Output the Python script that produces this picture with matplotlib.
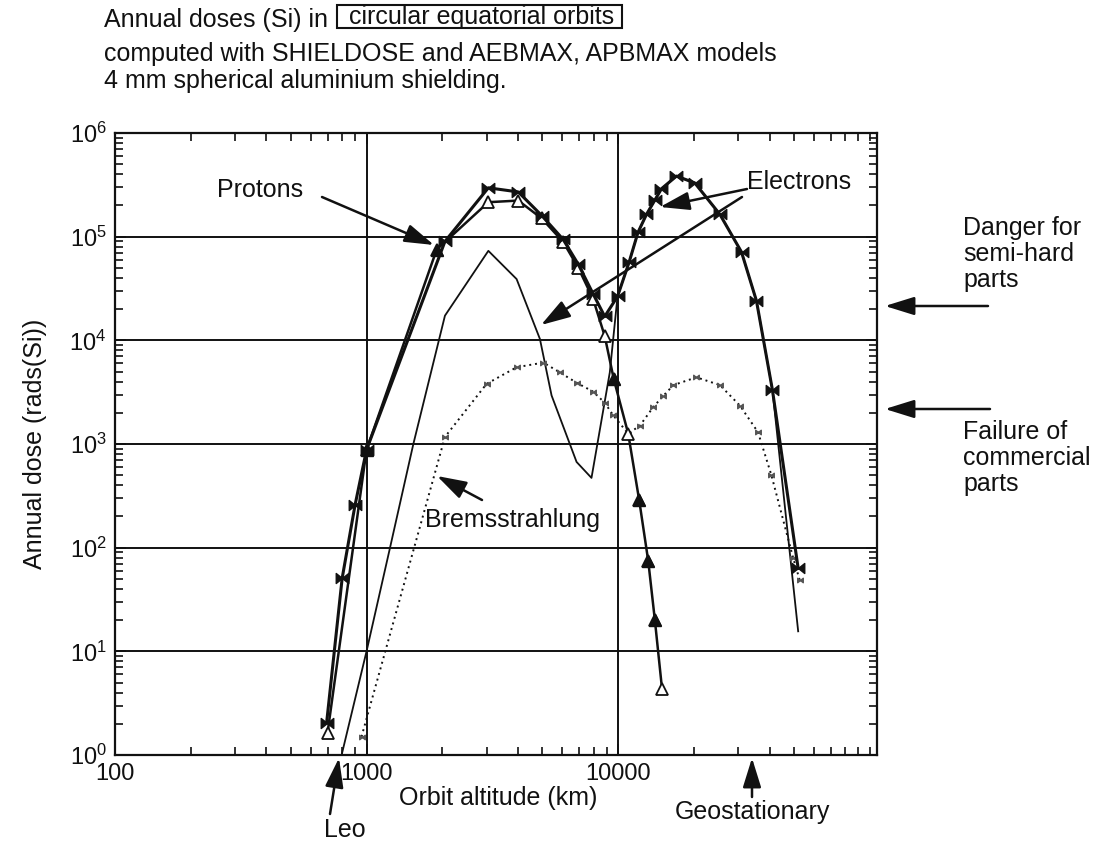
import numpy as np
import matplotlib
matplotlib.use("Agg")
import matplotlib.pyplot as plt
from matplotlib.path import Path
from matplotlib.patches import Rectangle
from matplotlib.ticker import FixedLocator, FuncFormatter, NullFormatter

plt.rcParams['font.family'] = ['Liberation Sans', 'DejaVu Sans']
plt.rcParams['mathtext.fontset'] = 'custom'
plt.rcParams['mathtext.rm'] = 'Liberation Sans'
plt.rcParams['mathtext.it'] = 'Liberation Sans'

# ---------------- data ----------------
# total dose curve (bow-tie markers)
total_alt = [694, 800, 900, 1000, 2050, 3050, 4010, 4970, 6050, 6950, 7960, 8850,
             9950, 11070, 12000, 12970, 14000, 14880, 17070, 20180, 25400, 30960,
             35500, 41100, 52000]
total_dose = [2.05, 50.7, 257, 880, 9.0e4, 2.96e5, 2.7e5, 1.6e5, 9.4e4, 5.4e4, 2.8e4, 1.7e4,
              2.65e4, 5.7e4, 1.1e5, 1.64e5, 2.25e5, 2.9e5, 3.84e5, 3.3e5, 1.64e5, 7.1e4,
              2.4e4, 3.3e3, 63]

# protons (triangle markers)
proton_alt = [700, 1000, 1900, 3050, 4010, 4970, 6050, 6950, 7960, 8850, 9620, 10970,
              12130, 13180, 14000, 14960]
proton_dose = [1.64, 880, 7.5e4, 2.15e5, 2.23e5, 1.5e5, 8.9e4, 5.0e4, 2.5e4, 1.1e4, 4.2e3,
               1.26e3, 288, 74.5, 20.2, 4.3]
proton_filled = [False, True, True, False, False, False, False, False, False, False, True,
                 False, True, True, True, False]

# electrons (thin solid line)
electron_alt = [796, 1000, 1240, 1535, 2050, 3050, 3950, 4890, 5440, 6840, 7840, 9270,
                9950, 11070, 12000, 12970, 14000, 14880, 17070, 20180, 25400, 30960,
                35500, 41100, 52000]
electron_dose = [1.0, 10, 100, 1000, 1.73e4, 7.3e4, 3.9e4, 1.03e4, 2.94e3, 671, 471, 4.9e3,
                 2.65e4, 5.7e4, 1.1e5, 1.64e5, 2.25e5, 2.9e5, 3.84e5, 3.3e5, 1.64e5, 7.1e4,
                 2.4e4, 3.3e3, 15.6]

# bremsstrahlung (dotted)
brems_alt = [955, 2050, 3000, 3950, 5050, 5870, 6840, 7960, 8850, 9550, 10970, 12200,
             13800, 15100, 16600, 20500, 25400, 30500, 36000, 40700, 49700, 52700]
brems_dose = [1.5, 1170, 3.8e3, 5.5e3, 6.1e3, 4.9e3, 3.9e3, 3.2e3, 2.5e3, 1.9e3, 1.26e3,
              1.5e3, 2.27e3, 2.9e3, 3.7e3, 4.4e3, 3.7e3, 2.35e3, 1.3e3, 500, 79, 49]

x_major = [100, 1000, 10000]
x_major_labels = ["100", "1000", "10000"]
y_major = [1e0, 1e1, 1e2, 1e3, 1e4, 1e5, 1e6]

title_lines = ["Annual doses (Si) in",
               "computed with SHIELDOSE and AEBMAX, APBMAX models",
               "4 mm spherical aluminium shielding."]
title_box = "circular equatorial orbits"

INK = "#111111"
W, H = 1094, 852


def P(px, py):
    return (px / W, 1 - py / H)


bowtie = Path([(-1, -0.8), (0, 0), (-1, 0.8), (-1, -0.8),
               (1, -0.8), (0, 0), (1, 0.8), (1, -0.8)],
              [Path.MOVETO, Path.LINETO, Path.LINETO, Path.CLOSEPOLY,
               Path.MOVETO, Path.LINETO, Path.LINETO, Path.CLOSEPOLY])

fig = plt.figure(figsize=(W / 100, H / 100), dpi=100)
ax_l, ax_r, ax_t, ax_b = 115, 877, 133, 755
ax = fig.add_axes([ax_l / W, 1 - ax_b / H, (ax_r - ax_l) / W, (ax_b - ax_t) / H])

ax.set_xscale('log')
ax.set_yscale('log')
ax.set_xlim(100, 1.07e5)
ax.set_ylim(1, 1e6)

# curves
ax.plot(electron_alt, electron_dose, color=INK, lw=1.3, zorder=3)
ax.plot(brems_alt, brems_dose, color=INK, lw=1.4, ls=(0, (1, 2)), marker=bowtie,
        ms=4, mfc='#555555', mec='#555555', zorder=3)
ax.plot(proton_alt, proton_dose, color=INK, lw=1.8, marker='^', ms=8,
        mfc='white', mec=INK, mew=1.3, zorder=4)
pf = np.array(proton_filled)
ax.plot(np.array(proton_alt)[pf], np.array(proton_dose)[pf], ls='none', marker='^',
        ms=8, mfc=INK, mec=INK, zorder=5)
ax.plot(total_alt, total_dose, color=INK, lw=2.2, marker=bowtie, ms=9,
        mfc=INK, mec=INK, zorder=6)

# axes styling
ax.xaxis.set_major_locator(FixedLocator(x_major))
ax.xaxis.set_major_formatter(FuncFormatter(
    lambda v, p: x_major_labels[x_major.index(v)] if v in x_major else ""))
minor_x = [m * d for d in (100, 1000, 10000) for m in range(2, 11)]
ax.xaxis.set_minor_locator(FixedLocator(minor_x))
ax.xaxis.set_minor_formatter(NullFormatter())
ax.yaxis.set_major_locator(FixedLocator(y_major))
ax.yaxis.set_major_formatter(FuncFormatter(
    lambda v, p: r"$\mathregular{10^{%d}}$" % round(np.log10(v))))
minor_y = [m * d for d in (1, 10, 100, 1000, 1e4, 1e5) for m in range(2, 10)]
ax.yaxis.set_minor_locator(FixedLocator(minor_y))
ax.yaxis.set_minor_formatter(NullFormatter())

ax.tick_params(which='both', direction='in', top=True, right=True, colors=INK,
               labelsize=17)
ax.tick_params(which='major', length=8, width=1.3, pad=6)
ax.tick_params(which='minor', length=6, width=1.2)
for s in ax.spines.values():
    s.set_color(INK)
    s.set_linewidth(1.6)

ax.grid(True, which='major', color=INK, lw=1.4)
ax.set_axisbelow(True)

ax.set_xlabel("Orbit altitude (km)", fontsize=18, color=INK)
ax.xaxis.set_label_coords((498 - ax_l) / (ax_r - ax_l), (ax_b - 786) / (ax_b - ax_t))
ax.set_ylabel("Annual dose (rads(Si))", fontsize=18, color=INK)
ax.yaxis.set_label_coords((47 - ax_l) / (ax_r - ax_l), 0.5)

# title block
fs_title = 18
fig.text(*P(104, 20), title_lines[0], fontsize=fs_title, color=INK, va='center', ha='left')
fig.text(*P(349, 17), title_box, fontsize=fs_title, color=INK, va='center', ha='left')
fig.patches.append(Rectangle(P(337, 28), (622 - 337) / W, 23 / H,
                             transform=fig.transFigure, fill=False, ec=INK, lw=1.5))
fig.text(*P(104, 54), title_lines[1], fontsize=fs_title, color=INK, va='center', ha='left')
fig.text(*P(104, 81), title_lines[2], fontsize=fs_title, color=INK, va='center', ha='left')

arrow_kw = dict(arrowstyle='-|>,head_length=0.9,head_width=0.28', color=INK, lw=1.8,
                shrinkA=0, shrinkB=0, mutation_scale=20)


def arrow(x0, y0, x1, y1):
    ax.annotate('', xy=P(x1, y1), xytext=P(x0, y0), xycoords='figure fraction',
                textcoords='figure fraction', arrowprops=arrow_kw, annotation_clip=False)


fs_ann = 18
fig.text(*P(260, 190), "Protons", fontsize=fs_ann, color=INK, ha='center', va='center')
arrow(322, 197, 434, 245)

fig.text(*P(799, 182), "Electrons", fontsize=fs_ann, color=INK, ha='center', va='center')
arrow(747, 189, 660, 207)
arrow(742, 197, 541, 325)

fig.text(*P(425, 520), "Bremsstrahlung", fontsize=fs_ann, color=INK, ha='left', va='center')
arrow(482, 500, 437, 476)

fig.text(*P(963, 254), "Danger for\nsemi-hard\nparts", fontsize=fs_ann, color=INK,
         ha='left', va='center', linespacing=1.1)
arrow(988, 306, 885, 306)
fig.text(*P(963, 458), "Failure of\ncommercial\nparts", fontsize=fs_ann, color=INK,
         ha='left', va='center', linespacing=1.1)
arrow(990, 409, 885, 409)

fig.text(*P(345, 830), "Leo", fontsize=fs_ann, color=INK, ha='center', va='center')
arrow(330, 814, 339, 758)
fig.text(*P(752, 812), "Geostationary", fontsize=fs_ann, color=INK, ha='center', va='center')
arrow(752, 797, 752, 758)

fig.savefig("out.png", dpi=100, facecolor='white')
